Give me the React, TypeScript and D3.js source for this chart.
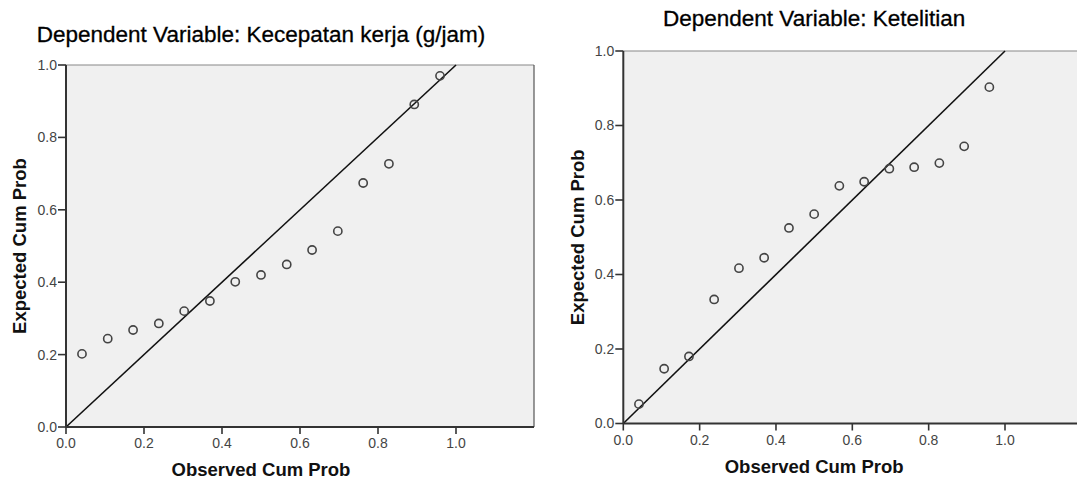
import * as d3 from 'd3';
import React from 'react';

// P-P plot data (15 cases each)
const observedCumProb = [0.041, 0.107, 0.172, 0.238, 0.303, 0.369, 0.434, 0.5, 0.566, 0.631, 0.697, 0.762, 0.828, 0.893, 0.959];
const expectedKecepatan = [0.202, 0.244, 0.268, 0.286, 0.32, 0.348, 0.401, 0.42, 0.449, 0.489, 0.541, 0.674, 0.727, 0.891, 0.97];
const expectedKetelitian = [0.052, 0.147, 0.18, 0.333, 0.417, 0.445, 0.525, 0.562, 0.638, 0.649, 0.684, 0.688, 0.699, 0.744, 0.903];
const tickValues = [0, 0.2, 0.4, 0.6, 0.8, 1.0];
const titles = ['Dependent Variable: Kecepatan kerja (g/jam)', 'Dependent Variable: Ketelitian'];

const font = "Arial, 'Liberation Sans', sans-serif";
const fmt = d3.format('.1f');

type PanelProps = {
  title: string;
  expected: number[];
  x0: number;
  x1: number;
  yTop: number;
  yBottom: number;
  titleY: number;
  yTitleX: number;
  xTitleY: number;
};

function PPPanel({ title, expected, x0, x1, yTop, yBottom, titleY, yTitleX, xTitleY }: PanelProps) {
  const x = d3.scaleLinear().domain([0, 1]).range([x0, x1]);
  const y = d3.scaleLinear().domain([0, 1]).range([yBottom, yTop]);
  const xMax = x(1.2);
  const mid = x(0.5);

  return (
    <g>
      <text x={mid} y={titleY} textAnchor="middle" fontFamily={font} fontSize={22.5} fill="#000" stroke="#000" strokeWidth={0.3}>
        {title}
      </text>
      <rect x={x(0)} y={y(1)} width={xMax - x(0)} height={y(0) - y(1)} fill="#f0f0f0" />
      <line x1={x(0)} x2={xMax} y1={y(1)} y2={y(1)} stroke="#888" strokeWidth={1.2} />
      <line x1={xMax} x2={xMax} y1={y(1)} y2={y(0)} stroke="#555" strokeWidth={1.2} />
      {/* diagonal reference line */}
      <line x1={x(0)} y1={y(0)} x2={x(1)} y2={y(1)} stroke="#111" strokeWidth={1.6} />
      {observedCumProb.map((o, i) => (
        <circle key={i} cx={x(o)} cy={y(expected[i])} r={4.1} fill="none" stroke="#444" strokeWidth={1.6} />
      ))}
      {/* axes */}
      <line x1={x(0)} x2={xMax} y1={y(0)} y2={y(0)} stroke="#333" strokeWidth={2} />
      <line x1={x(0)} x2={x(0)} y1={y(1)} y2={y(0)} stroke="#333" strokeWidth={2} />
      {tickValues.map((t) => (
        <g key={'y' + t}>
          <line x1={x(0) - 8} x2={x(0)} y1={y(t)} y2={y(t)} stroke="#333" strokeWidth={1.6} />
          <text x={x(0) - 9} y={y(t)} dy="0.35em" textAnchor="end" fontFamily={font} fontSize={14} fill="#444">
            {fmt(t)}
          </text>
        </g>
      ))}
      {tickValues.map((t) => (
        <g key={'x' + t}>
          <line x1={x(t)} x2={x(t)} y1={y(0)} y2={y(0) + 7} stroke="#333" strokeWidth={1.6} />
          <text x={x(t)} y={y(0) + 21} textAnchor="middle" fontFamily={font} fontSize={14} fill="#444">
            {fmt(t)}
          </text>
        </g>
      ))}
      <text x={mid} y={xTitleY} textAnchor="middle" fontFamily={font} fontSize={18.5} fontWeight="bold" fill="#111">
        Observed Cum Prob
      </text>
      <text
        transform={`translate(${yTitleX},${(y(0) + y(1)) / 2}) rotate(-90)`}
        dy="0.35em"
        textAnchor="middle"
        fontFamily={font}
        fontSize={18.5}
        fontWeight="bold"
        fill="#111"
      >
        Expected Cum Prob
      </text>
    </g>
  );
}

export default function App() {
  return (
    <svg
      width={1077}
      height={481}
      style={{ position: 'absolute', left: 0, top: 0, background: '#fff' }}
    >
      <rect width={1077} height={481} fill="#fff" />
      <PPPanel
        title={titles[0]}
        expected={expectedKecepatan}
        x0={66}
        x1={456}
        yTop={65}
        yBottom={427}
        titleY={42}
        yTitleX={20}
        xTitleY={476}
      />
      <PPPanel
        title={titles[1]}
        expected={expectedKetelitian}
        x0={623.3}
        x1={1005}
        yTop={51}
        yBottom={423.5}
        titleY={26}
        yTitleX={578}
        xTitleY={473}
      />
    </svg>
  );
}
